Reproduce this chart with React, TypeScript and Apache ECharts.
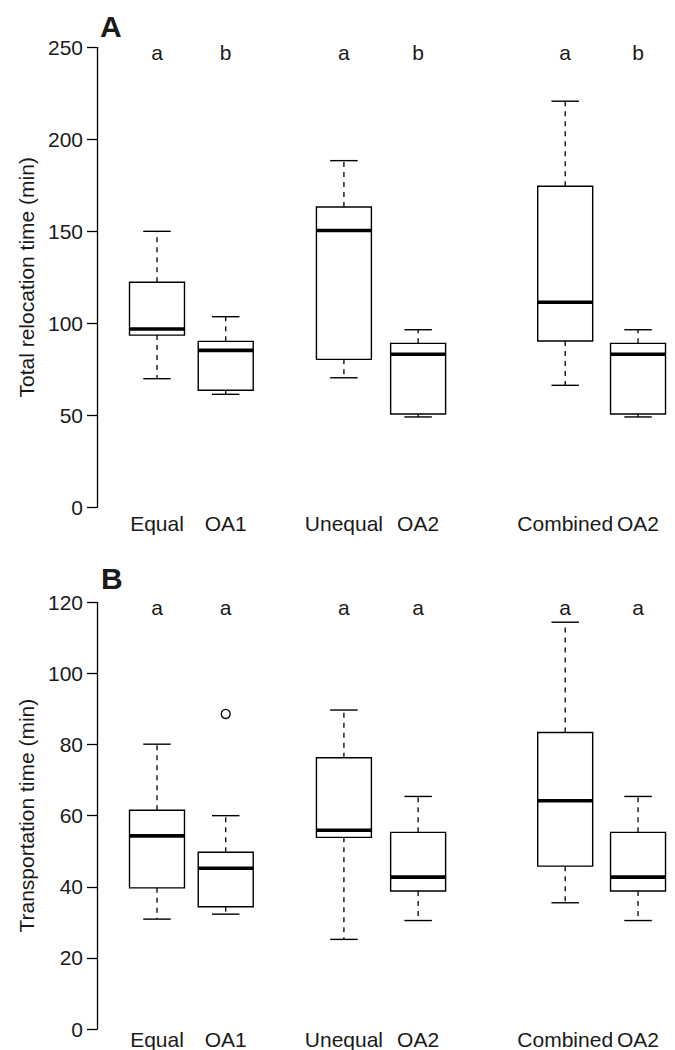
import React, { useEffect, useRef } from "react";
import * as echarts from "echarts";

const FONT = "'Liberation Sans', Arial, Helvetica, sans-serif";
const TEXT_COLOR = "#1a1a1a";

// Groups along the x axis
const categories = ["Equal", "OA1", "Unequal", "OA2", "Combined", "OA2"];
const groupPositions = [1, 2, 3.72, 4.8, 6.94, 8];

// Panel A: total relocation time (min) — [lower whisker, Q1, median, Q3, upper whisker]
const relocationStats = [
  [69.9, 93.6, 96.9, 122.3, 150.0],
  [61.4, 63.6, 85.3, 90.2, 103.6],
  [70.4, 80.4, 150.4, 163.2, 188.4],
  [49.1, 50.7, 83.2, 89.1, 96.5],
  [66.3, 90.4, 111.4, 174.5, 220.7],
  [49.1, 50.7, 83.2, 89.1, 96.5],
];
const relocationLetters = ["a", "b", "a", "b", "a", "b"];
const relocationAxis = [0, 250, 50]; // min, max, interval

// Panel B: transportation time (min)
const transportStats = [
  [30.9, 39.7, 54.3, 61.5, 80.1],
  [32.3, 34.4, 45.2, 49.7, 60.0],
  [25.2, 53.9, 55.9, 76.3, 89.7],
  [30.5, 38.8, 42.7, 55.3, 65.4],
  [35.5, 45.8, 64.2, 83.4, 114.4],
  [30.5, 38.8, 42.7, 55.3, 65.4],
];
const transportLetters = ["a", "a", "a", "a", "a", "a"];
const transportOutlierGroups = [1];
const transportOutlierValues = [88.6];
const transportAxis = [0, 120, 20];

const BOX_WIDTH = 0.8;

function makeRenderItem(letters: string[], yMax: number, labelOffset: number) {
  return (params: any, api: any) => {
    const i = params.dataIndex;
    const x = api.value(0);
    const lo = api.coord([x, api.value(1)]);
    const q1 = api.coord([x, api.value(2)]);
    const med = api.coord([x, api.value(3)]);
    const q3 = api.coord([x, api.value(4)]);
    const hi = api.coord([x, api.value(5)]);
    const top = api.coord([x, yMax]);
    const zero = api.coord([x, 0]);
    const bw = api.size([BOX_WIDTH, 0])[0];
    const cx = lo[0];
    const half = bw / 2;
    const cap = bw / 4;
    const solid = { stroke: "#000", lineWidth: 1.4, fill: null };
    const dashed = { stroke: "#000", lineWidth: 1.3, lineDash: [5, 5], fill: null };
    return {
      type: "group",
      children: [
        { type: "line", shape: { x1: cx, y1: q3[1], x2: cx, y2: hi[1] }, style: dashed },
        { type: "line", shape: { x1: cx, y1: q1[1], x2: cx, y2: lo[1] }, style: dashed },
        { type: "line", shape: { x1: cx - cap, y1: hi[1], x2: cx + cap, y2: hi[1] }, style: solid },
        { type: "line", shape: { x1: cx - cap, y1: lo[1], x2: cx + cap, y2: lo[1] }, style: solid },
        {
          type: "rect",
          shape: { x: cx - half, y: q3[1], width: bw, height: q1[1] - q3[1] },
          style: { stroke: "#000", lineWidth: 1.4, fill: "#fff" },
        },
        {
          type: "line",
          shape: { x1: cx - half, y1: med[1], x2: cx + half, y2: med[1] },
          style: { stroke: "#000", lineWidth: 3.6 },
        },
        {
          type: "text",
          x: cx,
          y: top[1] + 5,
          style: {
            text: letters[i],
            fill: TEXT_COLOR,
            fontSize: 21,
            fontFamily: FONT,
            align: "center",
            verticalAlign: "middle",
          },
        },
        {
          type: "text",
          x: cx,
          y: zero[1] + labelOffset,
          style: {
            text: categories[i],
            fill: TEXT_COLOR,
            fontSize: 21,
            fontFamily: FONT,
            align: "center",
            verticalAlign: "middle",
          },
        },
      ],
    };
  };
}

function yAxisFor(gridIndex: number, name: string, axis: number[]) {
  return {
    type: "value",
    gridIndex,
    min: axis[0],
    max: axis[1],
    interval: axis[2],
    name,
    nameLocation: "middle",
    nameRotate: 90,
    nameGap: 60,
    nameTextStyle: { fontSize: 21, color: TEXT_COLOR, fontFamily: FONT },
    axisLine: { show: true, onZero: false, lineStyle: { color: "#000", width: 1.3 } },
    axisTick: { show: true, length: 10, lineStyle: { color: "#000", width: 1.3 } },
    axisLabel: { fontSize: 21, color: TEXT_COLOR, fontFamily: FONT, margin: 14 },
    splitLine: { show: false },
  };
}

function xAxisFor(gridIndex: number) {
  return { type: "value", gridIndex, min: 0.127, max: 8.5, show: false, splitLine: { show: false } };
}

export default function App() {
  const ref = useRef<HTMLDivElement>(null);
  useEffect(() => {
    document.body.style.margin = "0";
    if (!ref.current) return;
    const chart = echarts.init(ref.current, null, { renderer: "svg" });
    const relocationData = relocationStats.map((s, i) => [groupPositions[i], ...s]);
    const transportData = transportStats.map((s, i) => [groupPositions[i], ...s]);
    const outlierData = transportOutlierGroups.map((g, k) => [groupPositions[g], transportOutlierValues[k]]);
    chart.setOption({
      animation: false,
      backgroundColor: "#fff",
      grid: [
        { left: 97, top: 47.3, width: 575.4, height: 460 },
        { left: 97, top: 602.3, width: 575.4, height: 426.7 },
      ],
      xAxis: [xAxisFor(0), xAxisFor(1)],
      yAxis: [
        yAxisFor(0, "Total relocation time (min)", relocationAxis),
        yAxisFor(1, "Transportation time (min)", transportAxis),
      ],
      graphic: [
        {
          type: "text",
          x: 100,
          y: 26.3,
          style: { text: "A", fill: TEXT_COLOR, fontSize: 30, fontWeight: "bold", fontFamily: FONT, verticalAlign: "middle" },
        },
        {
          type: "text",
          x: 101,
          y: 578.7,
          style: { text: "B", fill: TEXT_COLOR, fontSize: 30, fontWeight: "bold", fontFamily: FONT, verticalAlign: "middle" },
        },
      ],
      series: [
        {
          type: "custom",
          xAxisIndex: 0,
          yAxisIndex: 0,
          clip: false,
          renderItem: makeRenderItem(relocationLetters, relocationAxis[1], 16),
          encode: { x: 0, y: [1, 2, 3, 4, 5] },
          data: relocationData,
        },
        {
          type: "custom",
          xAxisIndex: 1,
          yAxisIndex: 1,
          clip: false,
          renderItem: makeRenderItem(transportLetters, transportAxis[1], 10),
          encode: { x: 0, y: [1, 2, 3, 4, 5] },
          data: transportData,
        },
        {
          type: "scatter",
          xAxisIndex: 1,
          yAxisIndex: 1,
          symbol: "circle",
          symbolSize: 9,
          itemStyle: { color: "#fff", borderColor: "#000", borderWidth: 1.3, opacity: 1 },
          data: outlierData,
        },
      ],
    });
    return () => chart.dispose();
  }, []);
  return <div ref={ref} style={{ width: 675, height: 1050 }} />;
}
